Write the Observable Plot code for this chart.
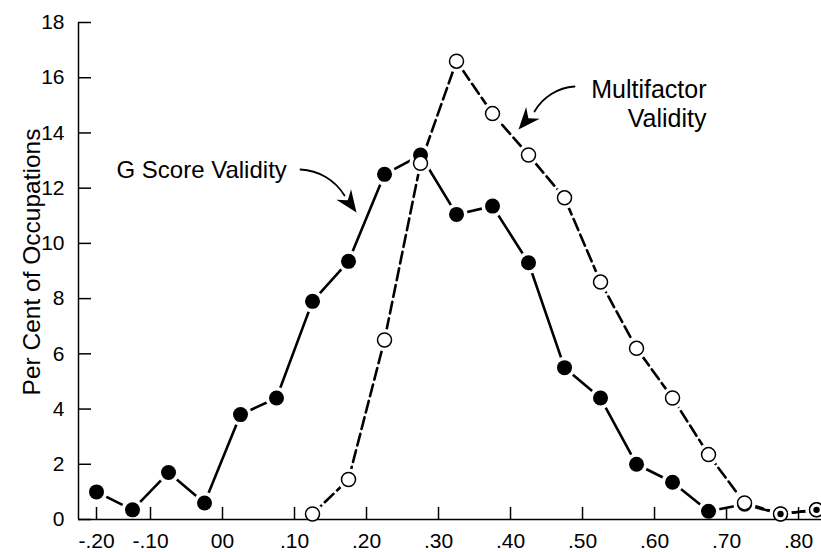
<!DOCTYPE html>
<html>
<head>
<meta charset="utf-8">
<script src="https://cdn.jsdelivr.net/npm/d3@7"></script>
<script src="https://cdn.jsdelivr.net/npm/@observablehq/plot@0.6"></script>
<style>
  html, body { margin: 0; padding: 0; background: #fff; overflow: hidden; }
  svg { display: block; }
</style>
</head>
<body>
<div id="chart"></div>
<script>
// Class-interval midpoints (validity coefficients)
const gScoreMidpoints = [-0.175, -0.125, -0.075, -0.025, 0.025, 0.075, 0.125, 0.175, 0.225, 0.275,
  0.325, 0.375, 0.425, 0.475, 0.525, 0.575, 0.625, 0.675, 0.725, 0.775, 0.825];
const gScoreValidity = [1.0, 0.35, 1.7, 0.6, 3.8, 4.4, 7.9, 9.35, 12.5, 13.2,
  11.05, 11.35, 9.3, 5.5, 4.4, 2.0, 1.35, 0.3, 0.55, 0.2, 0.35];

const multifactorMidpoints = [0.125, 0.175, 0.225, 0.275, 0.325, 0.375, 0.425, 0.475, 0.525, 0.575,
  0.625, 0.675, 0.725, 0.775, 0.825];
const multifactorValidity = [0.2, 1.45, 6.5, 12.9, 16.6, 14.7, 13.2, 11.65, 8.6, 6.2,
  4.4, 2.35, 0.6, 0.2, 0.35];

const xTickValues = [-0.175, -0.1, 0, 0.1, 0.2, 0.3, 0.4, 0.5, 0.6, 0.7, 0.8];
const xTickLabels = ["-.20", "-.10", "00", ".10", ".20", ".30", ".40", ".50", ".60", ".70", ".80"];
const yTickValues = [0, 2, 4, 6, 8, 10, 12, 14, 16, 18];

const yAxisLabel = "Per Cent of Occupations";
const gLabel = "G Score Validity";
const mLabel = "Multifactor\nValidity";

const gData = gScoreMidpoints.map((x, i) => ({x, y: gScoreValidity[i]}));
const mData = multifactorMidpoints.map((x, i) => ({x, y: multifactorValidity[i]}));
const both = gData.filter(d => mData.some(m => Math.abs(m.x - d.x) < 1e-9 && m.y === d.y));
const labelOf = new Map(xTickValues.map((v, i) => [v, xTickLabels[i]]));

const W = 821, H = 552, ML = 78, MR = 0, MT = 22, MB = 33;
const xDomain = [-0.2, 0.8319];
const pxX = (W - ML - MR) / (xDomain[1] - xDomain[0]);
const pxY = (H - MT - MB) / 18;

const arrowHead = {
  draw(ctx) {
    ctx.moveTo(0, 0);
    ctx.lineTo(-9, 22);
    ctx.lineTo(0, 15);
    ctx.lineTo(9, 22);
    ctx.closePath();
  }
};

const font = "'Liberation Sans', Arial, Helvetica, sans-serif";

const chart = Plot.plot({
  width: W,
  height: H,
  marginLeft: ML,
  marginRight: MR,
  marginTop: MT,
  marginBottom: MB,
  style: {fontFamily: font, fontSize: "21px", background: "white", color: "black"},
  x: {domain: xDomain},
  y: {domain: [0, 18]},
  marks: [
    // series lines
    Plot.line(gData, {x: "x", y: "y", stroke: "black", strokeWidth: 2.6}),
    Plot.line(mData, {x: "x", y: "y", stroke: "black", strokeWidth: 2.6, strokeDasharray: "12,5"}),
    // white halos around markers
    Plot.dot([...gData, ...mData], {x: "x", y: "y", r: 11, fill: "white", stroke: "none"}),
    // axis lines
    Plot.ruleY([0], {stroke: "black", strokeWidth: 1.5}),
    Plot.ruleX([xDomain[0]], {y1: 0, y2: 18, stroke: "black", strokeWidth: 1.5}),
    // inward ticks
    Plot.ruleY(yTickValues, {x1: xDomain[0], x2: xDomain[0] + 13 / pxX, stroke: "black", strokeWidth: 1.5}),
    Plot.ruleX(xTickValues, {y1: 0, y2: 12 / pxY, stroke: "black", strokeWidth: 1.5}),
    // tick labels
    Plot.axisY(yTickValues, {tickSize: 0, tickPadding: 14, label: null, fontSize: 21, tickFormat: d => String(d)}),
    Plot.axisX(xTickValues, {tickSize: 0, tickPadding: 14, label: null, fontSize: 21, tickFormat: d => labelOf.get(d)}),
    // markers
    Plot.dot(gData, {x: "x", y: "y", r: 7.5, fill: "black", stroke: "none"}),
    Plot.dot(mData, {x: "x", y: "y", r: 7, fill: "white", stroke: "black", strokeWidth: 1.5}),
    Plot.dot(both, {x: "x", y: "y", r: 3.2, fill: "black", stroke: "none"}),
    // y-axis title
    Plot.text([yAxisLabel], {frameAnchor: "left", textAnchor: "middle", lineAnchor: "middle", dx: -46.5, dy: -9, rotate: -90, fontSize: 24.5, fill: "black"}),
    // annotations
    Plot.text([gLabel], {x: -0.1472, y: 12.63, textAnchor: "start", fontSize: 24, fill: "black"}),
    Plot.text([mLabel], {x: 0.6722, y: 15.06, textAnchor: "end", fontSize: 25, lineHeight: 1.16, fill: "black"}),
    // curved arrows
    Plot.arrow([0], {x1: 0.1083, y1: 12.676, x2: 0.1694, y2: 11.734, bend: 28, headLength: 0, stroke: "black", strokeWidth: 1.8}),
    Plot.dot([0], {x: 0.1861, y: 11.119, symbol: arrowHead, rotate: 144.5, fill: "black", stroke: "none"}),
    Plot.arrow([0], {x1: 0.4889, y1: 15.682, x2: 0.4333, y2: 14.777, bend: -28, headLength: 0, stroke: "black", strokeWidth: 1.8}),
    Plot.dot([0], {x: 0.4111, y: 14.125, symbol: arrowHead, rotate: 221, fill: "black", stroke: "none"})
  ]
});

document.getElementById("chart").appendChild(chart);
</script>
</body>
</html>
